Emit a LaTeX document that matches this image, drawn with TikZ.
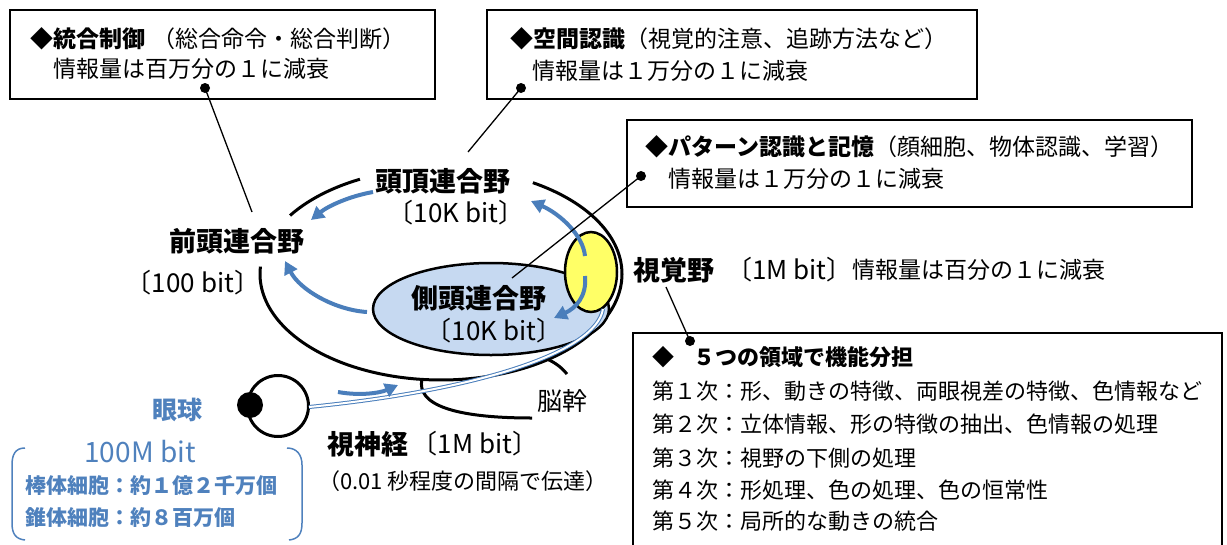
\documentclass[tikz,border=0pt]{standalone}
\usepackage{fontspec}
\newfontfamily\cjk{Noto Sans CJK JP}
\usetikzlibrary{arrows.meta}
\definecolor{infoblue}{RGB}{79,129,189}
\definecolor{flowblue}{RGB}{74,126,187}
\definecolor{temporalfill}{RGB}{198,217,241}
\definecolor{visualfill}{RGB}{255,255,102}
\begin{document}
\begin{tikzpicture}[x=1pt,y=-1pt,
  boxline/.style={line width=1.3pt},
  boxtext/.style={anchor=base west, inner sep=0pt, font=\cjk\fontsize{23}{28}\selectfont},
  listtext/.style={anchor=base west, inner sep=0pt, font=\cjk\fontsize{22}{26}\selectfont},
  region/.style={inner sep=0pt, font=\cjk\bfseries\fontsize{27}{32}\selectfont},
  bits/.style={inner sep=0pt, font=\cjk\fontsize{26}{30}\selectfont},
  eyetext/.style={anchor=base west, inner sep=0pt, text=infoblue, font=\cjk\bfseries\fontsize{21}{25}\selectfont},
  flow/.style={draw=flowblue, line width=4pt, -{Triangle[length=13pt,width=14pt]}},
  leader/.style={line width=1.3pt},
  dot/.style={fill=black},
  outline/.style={line width=3pt},
]
\useasboundingbox (0,0) rectangle (1227,544);

% ---- brain outline (gaps left for the two region labels) ----
\draw[outline] plot[domain=116.6:146.5, samples=30] ({441+181*cos(\x)}, {274-106*sin(\x)});
\draw[outline] plot[domain=176:419.5, samples=140] ({441+181*cos(\x)}, {274-106*sin(\x)});

% temporal association area
\draw[line width=2.5pt, fill=temporalfill] (491,309) ellipse [x radius=118pt, y radius=46pt];
% visual cortex
\draw[line width=2.5pt, fill=visualfill] (591,272) ellipse [x radius=26pt, y radius=40pt];

% brain stem
\coordinate (stemL) at (422,379);
\coordinate (stemLend) at (532,418);
\coordinate (stemR) at (547,359);
\coordinate (stemRend) at (567,374);
\draw[outline] (stemL) .. controls (416,405) and (455,418) .. (stemLend);
\draw[outline] (stemR) .. controls (556,363) and (562,368) .. (stemRend);

% eye ball
\coordinate (eyec) at (278,406);
\draw[line width=3pt] (eyec) circle (30.5pt);
\fill (250,405) circle (13pt);

% optic nerve
\coordinate (nervetop) at (603,309);
\coordinate (eyeback) at (309,407);
\draw[draw=flowblue, double=white, line width=1pt, double distance=2pt]
  (nervetop) .. controls (596,352) and (480,390) .. (eyeback);

% ---- information flow arrows ----
\coordinate (fa1) at (373,192);  \coordinate (fa2) at (311,220);
\coordinate (fb1) at (367,312);  \coordinate (fb2) at (285,261);
\coordinate (fc1) at (585,256);  \coordinate (fc2) at (531,201);
\coordinate (fd1) at (585,276);  \coordinate (fd2) at (554,318);
\coordinate (fe1) at (338,392);  \coordinate (fe2) at (398,385);
\draw[flow] (fa1) .. controls (350,196) and (328,206) .. (fa2);
\draw[flow] (fb1) .. controls (335,310) and (300,290) .. (fb2);
\draw[flow] (fc1) .. controls (583,235) and (560,214) .. (fc2);
\draw[flow] (fd1) .. controls (587,296) and (576,308) .. (fd2);
\draw[flow] (fe1) .. controls (360,396) and (380,393) .. (fe2);

% ---- region labels ----
\node[region] (parietal) at (443,181) {頭頂連合野};
\node[bits] (parietalbits) at (456,213) {〔10K bit〕};
\node[region] (frontal) at (237,241) {前頭連合野};
\node[bits] (frontalbits) at (193,283) {〔100 bit〕};
\node[region] (temporal) at (479,298) {側頭連合野};
\node[bits] (temporalbits) at (494,331) {〔10K bit〕};
\node[region] (visual) at (674,270) {視覚野};
\node[bits, anchor=west] (visualbits) at (726,270) {〔1M bit〕};
\node[inner sep=0pt, anchor=west, font=\cjk\fontsize{23}{28}\selectfont] (visualinfo) at (visualbits.east) {情報量は百分の１に減衰};
\node[inner sep=0pt, font=\cjk\fontsize{25}{30}\selectfont] (stem) at (562,401) {脳幹};

% optic nerve labels
\node[region, anchor=west] (nerve) at (327,444) {視神経};
\node[bits] (nervebits) at (475,444) {〔1M bit〕};
\node[inner sep=0pt, anchor=west, font=\cjk\fontsize{22}{26}\selectfont] (nervetime) at (318,481) {（0.01 秒程度の間隔で伝達）};

% eye labels
\node[inner sep=0pt, text=infoblue, font=\cjk\bfseries\fontsize{25}{30}\selectfont] (eyelabel) at (177,410) {眼球};
\node[inner sep=0pt, text=infoblue, font=\cjk\fontsize{28}{32}\selectfont] (eyebits) at (140,452) {100M bit};
\node[eyetext] (rods) at (25,493) {棒体細胞：約１億２千万個};
\node[eyetext] (cones) at (25,525) {錐体細胞：約８百万個};
\draw[infoblue, line width=1.5pt] (25,448) .. controls (15,448) and (12,455) .. (12,465) -- (12,523)
  .. controls (12,533) and (15,539) .. (25,540);
\draw[infoblue, line width=1.5pt] (287,448) .. controls (297,448) and (302,455) .. (302,465) -- (302,523)
  .. controls (302,533) and (299,539) .. (289,540);

% ---- information boxes ----
\draw[boxline] (10,10) rectangle (435,99);
\node[boxtext] (ctrlA) at (30,47) {{\bfseries ◆統合制御}\hspace{0.3em}（総合命令・総合判断）};
\node[boxtext] (ctrlB) at (53,77) {情報量は百万分の１に減衰};

\draw[boxline] (487,10) rectangle (977,99);
\node[boxtext] (spaceA) at (510,47) {{\bfseries ◆空間認識}（視覚的注意、追跡方法など）};
\node[boxtext] (spaceB) at (532,79) {情報量は１万分の１に減衰};

\draw[boxline] (627,120) rectangle (1192,207);
\node[boxtext] (patA) at (645,155) {{\bfseries ◆パターン認識と記憶}（顔細胞、物体認識、学習）};
\node[boxtext] (patB) at (668,187) {情報量は１万分の１に減衰};

\draw[boxline] (633,548) -- (633,333) -- (1222,333) -- (1222,548);
\node[listtext, font=\cjk\bfseries\fontsize{22}{26}\selectfont] (areasT) at (652,365) {◆\hspace{0.9em}５つの領域で機能分担};
\node[listtext] (area1) at (652,399) {第１次：形、動きの特徴、両眼視差の特徴、色情報など};
\node[listtext] (area2) at (652,432) {第２次：立体情報、形の特徴の抽出、色情報の処理};
\node[listtext] (area3) at (652,466) {第３次：視野の下側の処理};
\node[listtext] (area4) at (652,498) {第４次：形処理、色の処理、色の恒常性};
\node[listtext] (area5) at (652,529) {第５次：局所的な動きの統合};

% ---- leader lines with dots ----
\coordinate (ctrldot) at (205,88);   \coordinate (ctrlend) at (252,212);
\coordinate (spacedot) at (521,88);  \coordinate (spaceend) at (468,152);
\coordinate (patdot) at (641,176);   \coordinate (patend) at (512,278);
\coordinate (visdot) at (690,341);   \coordinate (visend) at (666,287);
\draw[leader] (ctrldot) -- (ctrlend);
\draw[leader] (spacedot) -- (spaceend);
\draw[leader] (patdot) -- (patend);
\draw[leader] (visdot) -- (visend);
\foreach \d in {ctrldot,spacedot,patdot,visdot} \fill[dot] (\d) circle (5pt);
\end{tikzpicture}
\end{document}
